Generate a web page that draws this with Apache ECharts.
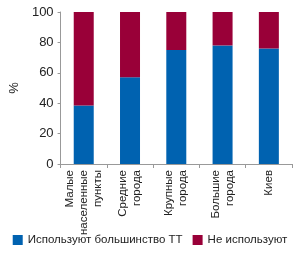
<!DOCTYPE html>
<html>
<head>
<meta charset="utf-8">
<script src="https://cdn.jsdelivr.net/npm/echarts@6/dist/echarts.min.js"></script>
<style>
  html, body { margin: 0; padding: 0; background: #fff; }
  #chart { width: 300px; height: 255px; }
</style>
</head>
<body>
<div id="chart"></div>
<script>
const categories = ['Малые\nнаселенные\nпункты', 'Средние\nгорода', 'Крупные\nгорода', 'Большие\nгорода', 'Киев'];
const usedValues = [38.5, 57, 75, 78, 76];
const notUsedValues = [61.5, 43, 25, 22, 24];
const yTicks = [0, 20, 40, 60, 80, 100];

const font = '"Liberation Sans", Arial, sans-serif';

const myChart = echarts.init(document.querySelector('#chart'));

myChart.setOption({
  animation: false,
  grid: { left: 50, right: 8, top: 12, bottom: 91 },
  legend: {
    bottom: 4,
    left: 'center',
    width: 296,
    itemWidth: 10,
    itemHeight: 10,
    itemGap: 10,
    itemTextGap: 4,
    icon: 'rect',
    textStyle: { fontFamily: font, fontSize: 11.5, color: '#222' },
    data: ['Используют большинство ТТ', 'Не используют']
  },
  xAxis: {
    type: 'category',
    data: categories,
    axisLine: { lineStyle: { color: '#999' } },
    axisTick: { show: true, alignWithLabel: false, length: 4, lineStyle: { color: '#999' } },
    axisLabel: {
      rotate: 90,
      interval: 0,
      margin: 6,
      fontFamily: font,
      fontSize: 11.5,
      lineHeight: 14,
      color: '#222'
    }
  },
  yAxis: {
    type: 'value',
    min: 0,
    max: 100,
    interval: 20,
    name: '%',
    nameLocation: 'middle',
    nameGap: 32,
    nameRotate: 90,
    nameTextStyle: { fontFamily: font, fontSize: 13, color: '#222' },
    axisLine: { show: true, lineStyle: { color: '#999' } },
    axisTick: { show: true, length: 3, lineStyle: { color: '#999' } },
    splitLine: { show: false },
    axisLabel: {
      fontFamily: font,
      fontSize: 13,
      color: '#222',
      margin: 7,
      formatter: v => yTicks.includes(v) ? String(v) : ''
    }
  },
  series: [
    {
      name: 'Используют большинство ТТ',
      type: 'bar',
      stack: 'total',
      barWidth: 20,
      itemStyle: { color: '#0062b0' },
      data: usedValues
    },
    {
      name: 'Не используют',
      type: 'bar',
      stack: 'total',
      barWidth: 20,
      itemStyle: { color: '#990038' },
      data: notUsedValues
    }
  ]
});
</script>
</body>
</html>
